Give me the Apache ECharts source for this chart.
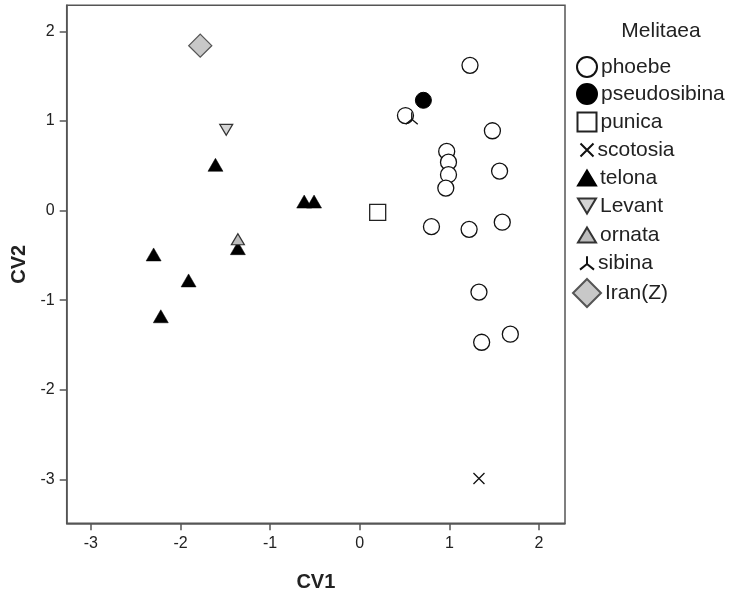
<!DOCTYPE html>
<html>
<head>
<meta charset="utf-8">
<script src="https://cdn.jsdelivr.net/npm/echarts@6/dist/echarts.min.js"></script>
<style>
  html, body { margin: 0; padding: 0; background: #fff; }
  #chart { width: 739px; height: 595px; }
</style>
</head>
<body>
<div id="chart"></div>
<script>
// 数据 (CV1, CV2)
const phoebe = [[1.23, 1.62], [0.51, 1.06], [1.48, 0.89], [0.97, 0.66], [0.99, 0.54], [0.99, 0.40], [0.96, 0.25],
    [1.56, 0.44], [0.80, -0.18], [1.22, -0.21], [1.59, -0.13], [1.33, -0.91], [1.36, -1.47], [1.68, -1.38]];
const pseudosibina = [[0.71, 1.23]];
const punica = [[0.20, -0.02]];
const scotosia = [[1.33, -2.99]];
const telona = [[-1.61, 0.51], [-0.62, 0.10], [-0.51, 0.10], [-1.36, -0.42], [-2.30, -0.49], [-1.91, -0.78], [-2.22, -1.18]];
const levant = [[-1.49, 0.90]];
const ornata = [[-1.36, -0.32]];
const sibina = [[0.58, 1.03]];
const iran = [[-1.78, 1.84]];

const xTicks = [-3, -2, -1, 0, 1, 2];
const yTicks = [-3, -2, -1, 0, 1, 2];

const chart = echarts.init(document.getElementById('chart'));

const FONT = 'Arial, "Liberation Sans", sans-serif';
const crossPath = 'path://M0,0L10,10M0,10L10,0';
const sibinaPath = 'path://M5,0L5,5.5M5,5.5L0,9.5M5,5.5L10,9.5';
const downTri = 'path://M0,0L12,0L6,10Z';

// 系列样式
const seriesDefs = [
    { name: 'phoebe', data: phoebe, symbol: 'circle', size: 16, style: { color: '#fff', borderColor: '#111', borderWidth: 1.3 },
        legendIcon: 'circle', legendW: 20, legendH: 20 },
    { name: 'pseudosibina', data: pseudosibina, symbol: 'circle', size: 16, style: { color: '#000', borderColor: '#000', borderWidth: 1 },
        legendIcon: 'circle', legendW: 20, legendH: 20 },
    { name: 'punica', data: punica, symbol: 'rect', size: 16, style: { color: '#fff', borderColor: '#222', borderWidth: 1.3 },
        legendIcon: 'rect', legendW: 19, legendH: 19 },
    { name: 'scotosia', data: scotosia, symbol: crossPath, size: 11, style: { color: 'transparent', borderColor: '#111', borderWidth: 1.3 },
        legendIcon: crossPath, legendW: 13, legendH: 13 },
    { name: 'telona', data: telona, symbol: 'triangle', size: [15, 13], style: { color: '#000', borderColor: '#000', borderWidth: 0.5 },
        legendIcon: 'triangle', legendW: 18, legendH: 15 },
    { name: 'Levant', data: levant, symbol: downTri, size: [13, 11], style: { color: '#d4d4d4', borderColor: '#333', borderWidth: 1.2 },
        legendIcon: downTri, legendW: 18, legendH: 15 },
    { name: 'ornata', data: ornata, symbol: 'triangle', size: [13, 11], style: { color: '#bdbdbd', borderColor: '#333', borderWidth: 1.2 },
        legendIcon: 'triangle', legendW: 18, legendH: 15 },
    { name: 'sibina', data: sibina, symbol: sibinaPath, size: 12, style: { color: 'transparent', borderColor: '#111', borderWidth: 1.3 },
        legendIcon: sibinaPath, legendW: 14, legendH: 14 },
    { name: 'Iran(Z)', data: iran, symbol: 'diamond', size: [23, 23], style: { color: '#c8c8c8', borderColor: '#555', borderWidth: 1.3 },
        legendIcon: 'diamond', legendW: 28, legendH: 28 }
];
seriesDefs.forEach(s => { s.style.opacity = 1; });

const rowY = [67, 94, 122, 150, 178, 206, 235, 263, 292];

const legends = seriesDefs.map((s, i) => ({
    data: [{ name: s.name, icon: s.legendIcon }],
    left: 586 - s.legendW / 2,
    top: rowY[i] - Math.max(s.legendH, 24) / 2,
    orient: 'vertical',
    padding: 0,
    itemWidth: s.legendW,
    itemHeight: s.legendH,
    itemGap: 0,
    selectedMode: false,
    textStyle: { fontFamily: FONT, fontSize: 21, color: '#222', lineHeight: 24, padding: [0, 0, 0, -1] }
}));

chart.setOption({
    animation: false,
    backgroundColor: '#fff',
    title: {
        text: 'Melitaea',
        left: 656,
        top: 16,
        textAlign: 'center',
        textStyle: { fontFamily: FONT, fontSize: 21, fontWeight: 'normal', color: '#222' }
    },
    legend: legends,
    grid: {
        left: 66.7,
        right: 174,
        top: 5.3,
        bottom: 71.7,
        show: true,
        borderColor: '#555',
        borderWidth: 1.5,
        containLabel: false,
        outerBoundsMode: 'none'
    },
    xAxis: {
        type: 'value',
        min: -3.27,
        max: 2.29,
        name: 'CV1',
        nameLocation: 'middle',
        nameGap: 49,
        nameTextStyle: { fontFamily: FONT, fontSize: 20, fontWeight: 'bold', color: '#222' },
        splitLine: { show: false },
        axisLine: { show: true, onZero: false, lineStyle: { color: '#555', width: 1.5 } },
        axisTick: { show: true, length: 7, customValues: xTicks, lineStyle: { color: '#555', width: 1.5 } },
        axisLabel: { customValues: xTicks, margin: 12, fontFamily: FONT, fontSize: 16, color: '#222' }
    },
    yAxis: {
        type: 'value',
        min: -3.49,
        max: 2.29,
        name: 'CV2',
        nameLocation: 'middle',
        nameGap: 33,
        nameTextStyle: { fontFamily: FONT, fontSize: 20, fontWeight: 'bold', color: '#222' },
        splitLine: { show: false },
        axisLine: { show: true, onZero: false, lineStyle: { color: '#555', width: 1.5 } },
        axisTick: { show: true, length: 7, customValues: yTicks, lineStyle: { color: '#555', width: 1.5 } },
        axisLabel: { customValues: yTicks, margin: 12, fontFamily: FONT, fontSize: 16, color: '#222' }
    },
    series: seriesDefs.map(s => ({
        name: s.name,
        type: 'scatter',
        data: s.data,
        symbol: s.symbol,
        symbolSize: s.size,
        itemStyle: s.style,
        emphasis: { disabled: true }
    }))
});

window.addEventListener('resize', function () {
    chart.resize();
});
</script>
</body>
</html>
